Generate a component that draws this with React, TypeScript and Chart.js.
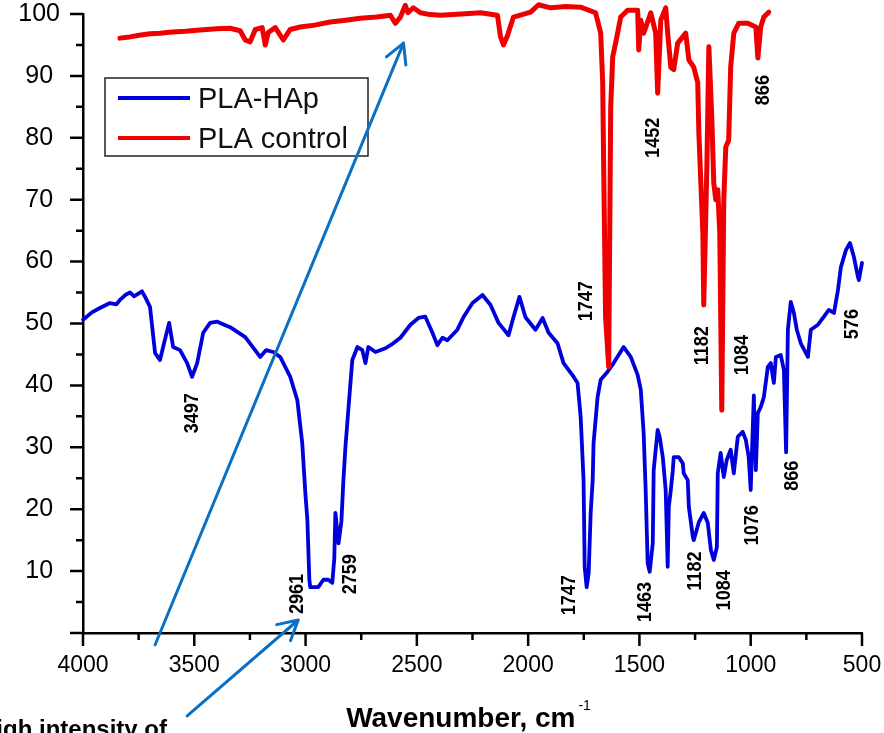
import React, { useEffect, useRef } from 'react';
import { Chart, registerables } from 'chart.js';

Chart.register(...registerables);

// ---------- DATA ----------
const seriesNames = ['PLA-HAp', 'PLA control'];

const blueWavenumbers = [
  4000, 3960, 3924, 3879, 3850, 3834, 3810, 3789, 3770, 3753, 3735, 3721, 3699, 3676, 3654, 3640,
  3613, 3595, 3564, 3532, 3510, 3487, 3460, 3429, 3397, 3339, 3271, 3204, 3177, 3145, 3114, 3069,
  3037, 3015, 3001, 2992, 2983, 2979, 2943, 2920, 2898, 2880, 2871, 2866, 2852, 2839, 2830, 2821,
  2808, 2790, 2767, 2745, 2731, 2718, 2686, 2641, 2606, 2574, 2529, 2493, 2462, 2430, 2408, 2385,
  2363, 2318, 2291, 2250, 2205, 2169, 2133, 2088, 2066, 2039, 2012, 1967, 1935, 1908, 1868, 1841,
  1796, 1778, 1764, 1751, 1746, 1737, 1728, 1719, 1710, 1706, 1688, 1674, 1643, 1616, 1571, 1539,
  1508, 1494, 1481, 1472, 1463, 1454, 1440, 1436, 1418, 1409, 1395, 1382, 1373, 1368, 1359, 1350,
  1346, 1323, 1305, 1301, 1283, 1278, 1260, 1256, 1233, 1211, 1193, 1179, 1166, 1152, 1148, 1135,
  1121, 1108, 1090, 1076, 1058, 1036, 1022, 1009, 1000, 991, 986, 977, 968, 955, 941, 923,
  910, 896, 887, 865, 851, 841, 833, 820, 806, 793, 775, 743, 730, 698, 671, 649,
  626, 608, 595, 572, 554, 536, 518, 514, 500,
];
const blueTransmittance = [
  50.6, 51.8, 52.5, 53.3, 53.1, 53.8, 54.6, 55.0, 54.4, 54.8, 55.2, 54.3, 52.7, 45.2, 44.1, 46.2,
  50.1, 46.2, 45.7, 43.6, 41.4, 43.6, 48.5, 50.1, 50.3, 49.4, 47.8, 44.6, 45.7, 45.4, 44.6, 41.4,
  37.6, 30.7, 22.6, 18.3, 8.6, 7.4, 7.4, 8.6, 8.6, 8.1, 12.0, 19.4, 14.5, 18.0, 24.7, 30.0,
  36.0, 44.1, 46.2, 45.7, 43.6, 46.2, 45.4, 46.0, 46.8, 47.7, 49.8, 50.9, 51.1, 48.5, 46.5, 47.7,
  47.3, 49.0, 51.0, 53.3, 54.6, 53.0, 50.1, 48.1, 51.0, 54.3, 51.0, 49.0, 50.9, 48.5, 46.8, 43.6,
  41.4, 40.4, 34.9, 24.7, 10.7, 7.4, 9.7, 19.4, 24.7, 30.7, 38.1, 40.9, 42.2, 43.6, 46.2, 44.6,
  41.7, 39.3, 32.3, 23.1, 11.3, 9.9, 14.5, 26.3, 32.8, 31.7, 28.4, 23.1, 10.7, 20.4, 23.1, 26.3,
  28.4, 28.4, 27.4, 25.8, 24.7, 20.4, 15.5, 15.0, 17.9, 19.4, 17.8, 13.4, 11.8, 13.9, 25.8, 29.1,
  25.2, 27.9, 29.6, 25.8, 31.7, 32.5, 31.2, 28.4, 23.1, 32.8, 38.4, 26.3, 35.5, 36.5, 38.1, 43.0,
  43.6, 40.4, 44.6, 44.9, 42.5, 29.2, 49.0, 53.5, 51.7, 49.0, 46.8, 44.6, 49.0, 49.8, 51.1, 52.2,
  51.7, 55.4, 59.1, 61.9, 63.0, 60.7, 57.5, 57.0, 59.8,
];

const redWavenumbers = [
  3834, 3790, 3740, 3699, 3654, 3600, 3540, 3474, 3400, 3339, 3294, 3271, 3249, 3226, 3195, 3181,
  3168, 3136, 3100, 3069, 3024, 2960, 2889, 2820, 2754, 2680, 2619, 2597, 2574, 2552, 2540, 2529,
  2516, 2484, 2440, 2394, 2300, 2214, 2138, 2124, 2111, 2093, 2066, 1989, 1953, 1899, 1830, 1764,
  1697, 1674, 1665, 1661, 1652, 1638, 1629, 1620, 1607, 1584, 1553, 1508, 1503, 1494, 1481, 1449,
  1427, 1418, 1404, 1382, 1373, 1359, 1346, 1328, 1292, 1278, 1256, 1238, 1233, 1224, 1215, 1211,
  1197, 1188, 1175, 1166, 1157, 1148, 1139, 1130, 1121, 1112, 1099, 1090, 1076, 1054, 1013, 977,
  968, 955, 941, 919,
];
const redTransmittance = [
  96.1, 96.3, 96.6, 96.8, 96.9, 97.1, 97.2, 97.4, 97.6, 97.7, 97.3, 95.8, 95.5, 97.5, 97.8, 95.0,
  97.0, 97.8, 95.8, 97.5, 97.9, 98.2, 98.7, 99.0, 99.3, 99.5, 99.8, 98.5, 99.5, 101.4, 100.2, 100.6,
  101.0, 100.2, 99.9, 99.8, 100.0, 100.2, 99.8, 96.3, 95.0, 96.5, 99.5, 100.3, 101.5, 101.0, 101.2, 101.1,
  100.2, 96.9, 88.9, 76.4, 51.0, 43.0, 85.0, 93.1, 95.3, 99.5, 100.6, 100.6, 94.2, 99.0, 96.9, 100.2,
  96.9, 87.2, 99.0, 101.0, 96.9, 91.4, 91.0, 95.3, 96.9, 92.6, 91.4, 88.9, 80.8, 72.7, 64.6, 53.0,
  75.3, 94.7, 83.4, 72.7, 70.0, 71.6, 64.6, 36.0, 70.0, 78.5, 79.6, 91.4, 96.9, 98.5, 98.5, 97.9,
  92.9, 97.9, 99.5, 100.3,
];

const xTickValues = [4000, 3500, 3000, 2500, 2000, 1500, 1000, 500];
const yTickValues = [0, 10, 20, 30, 40, 50, 60, 70, 80, 90, 100];

// peak annotations (label text, anchor wavenumber, anchor transmittance)
const bluePeakLabels = ['3497', '2961', '2759', '1747', '1463', '1182', '1084', '1076', '866', '576'];
const bluePeakWavenumbers = [3510, 3037, 2799, 1814, 1472, 1251, 1117, 995, 815, 545];
const bluePeakLabelY = [35.5, 6.3, 9.5, 6.1, 5.0, 10.0, 6.9, 17.4, 25.4, 49.9];
const redPeakLabels = ['1747', '1452', '1182', '1084', '866'];
const redPeakWavenumbers = [1737, 1436, 1220, 1040, 946];
const redPeakLabelY = [53.6, 80.0, 46.4, 44.9, 87.7];

// callout arrows: tails and tips in data units
const arrowTails = [[3676, -1.9], [3532, -13.4]];
const arrowTips = [[2560, 95.3], [3033, 2.1]];

const calloutText = 'High intensity of';
const xTitle = 'Wavenumber, cm';
const xTitleSup = '-1';

const FONT = '"Liberation Sans", Arial, Helvetica, sans-serif';
const BLUE = '#0000DC';
const RED = '#EE0000';
const ARROW = '#0A70C4';

function drawVLabel(ctx: CanvasRenderingContext2D, text: string, cx: number, cy: number) {
  ctx.save();
  ctx.translate(cx, cy);
  ctx.rotate(-Math.PI / 2);
  ctx.scale(0.86, 1);
  ctx.font = `bold 21px ${FONT}`;
  ctx.fillStyle = '#000';
  ctx.textAlign = 'center';
  ctx.textBaseline = 'middle';
  ctx.fillText(text, 0, 0);
  ctx.restore();
}

function drawArrow(ctx: CanvasRenderingContext2D, x1: number, y1: number, x2: number, y2: number) {
  const ang = Math.atan2(y2 - y1, x2 - x1);
  const head = 22;
  const spread = 0.5;
  ctx.save();
  ctx.strokeStyle = ARROW;
  ctx.lineWidth = 3;
  ctx.lineCap = 'round';
  ctx.lineJoin = 'round';
  ctx.beginPath();
  ctx.moveTo(x1, y1);
  ctx.lineTo(x2, y2);
  ctx.moveTo(x2 - head * Math.cos(ang - spread), y2 - head * Math.sin(ang - spread));
  ctx.lineTo(x2, y2);
  ctx.lineTo(x2 - head * Math.cos(ang + spread), y2 - head * Math.sin(ang + spread));
  ctx.stroke();
  ctx.restore();
}

const overlayPlugin = {
  id: 'overlay',
  afterDraw(chart: any) {
    const { ctx, chartArea } = chart;
    const xs = chart.scales.x;
    const ys = chart.scales.y;

    // ticks (major + minor), drawn outward
    ctx.save();
    ctx.strokeStyle = '#000';
    ctx.lineWidth = 2.5;
    ctx.beginPath();
    const xMinor: number[] = [];
    for (let i = 0; i < xTickValues.length - 1; i++) xMinor.push((xTickValues[i] + xTickValues[i + 1]) / 2);
    xTickValues.forEach((v) => {
      const px = xs.getPixelForValue(v);
      ctx.moveTo(px, chartArea.bottom);
      ctx.lineTo(px, chartArea.bottom + 13);
    });
    xMinor.forEach((v) => {
      const px = xs.getPixelForValue(v);
      ctx.moveTo(px, chartArea.bottom);
      ctx.lineTo(px, chartArea.bottom + 7);
    });
    const yMinor: number[] = [];
    for (let i = 0; i < yTickValues.length - 1; i++) yMinor.push((yTickValues[i] + yTickValues[i + 1]) / 2);
    yTickValues.forEach((v) => {
      const py = ys.getPixelForValue(v);
      ctx.moveTo(chartArea.left, py);
      ctx.lineTo(chartArea.left - 13, py);
    });
    yMinor.forEach((v) => {
      const py = ys.getPixelForValue(v);
      ctx.moveTo(chartArea.left, py);
      ctx.lineTo(chartArea.left - 7, py);
    });
    ctx.stroke();
    ctx.restore();

    // peak labels
    bluePeakLabels.forEach((t, i) =>
      drawVLabel(ctx, t, xs.getPixelForValue(bluePeakWavenumbers[i]), ys.getPixelForValue(bluePeakLabelY[i]))
    );
    redPeakLabels.forEach((t, i) =>
      drawVLabel(ctx, t, xs.getPixelForValue(redPeakWavenumbers[i]), ys.getPixelForValue(redPeakLabelY[i]))
    );

    // legend
    const ds = chart.data.datasets;
    const lx = chartArea.left + 22;
    const ly = chartArea.top + 64;
    ctx.save();
    ctx.strokeStyle = '#222';
    ctx.lineWidth = 1.5;
    ctx.strokeRect(lx, ly, 263, 78);
    const rows = [ly + 20, ly + 60];
    ds.forEach((d: any, i: number) => {
      ctx.strokeStyle = d.borderColor;
      ctx.lineWidth = 4;
      ctx.beginPath();
      ctx.moveTo(lx + 13, rows[i]);
      ctx.lineTo(lx + 85, rows[i]);
      ctx.stroke();
      ctx.fillStyle = '#111';
      ctx.font = `29px ${FONT}`;
      ctx.textAlign = 'left';
      ctx.textBaseline = 'alphabetic';
      ctx.fillText(d.label, lx + 93, rows[i] + 10);
    });
    ctx.restore();

    // x-axis title with superscript
    ctx.save();
    ctx.fillStyle = '#000';
    ctx.textBaseline = 'alphabetic';
    ctx.font = `bold 28px ${FONT}`;
    const mainW = ctx.measureText(xTitle).width;
    ctx.font = `14px ${FONT}`;
    const supW = ctx.measureText(xTitleSup).width;
    const cx = (chartArea.left + chartArea.right) / 2 - 4;
    const startX = cx - (mainW + supW + 3) / 2;
    const base = chartArea.bottom + 94;
    ctx.font = `bold 28px ${FONT}`;
    ctx.textAlign = 'left';
    ctx.fillText(xTitle, startX, base);
    ctx.font = `14px ${FONT}`;
    ctx.fillText(xTitleSup, startX + mainW + 3, base - 17);
    ctx.restore();

    // callout text (cut at the bottom-left edge)
    ctx.save();
    ctx.fillStyle = '#000';
    ctx.font = `bold 24px ${FONT}`;
    ctx.textAlign = 'right';
    ctx.textBaseline = 'alphabetic';
    ctx.fillText(calloutText, 167, chart.height + 4);
    ctx.restore();

    // arrows
    arrowTails.forEach((t, i) => {
      drawArrow(
        ctx,
        xs.getPixelForValue(t[0]),
        ys.getPixelForValue(t[1]),
        xs.getPixelForValue(arrowTips[i][0]),
        ys.getPixelForValue(arrowTips[i][1])
      );
    });
  },
};

export default function App() {
  const ref = useRef<HTMLCanvasElement>(null);

  useEffect(() => {
    document.body.style.margin = '0';
    const canvas = ref.current;
    if (!canvas) return;
    const bluePts = blueWavenumbers.map((w, i) => ({ x: w, y: blueTransmittance[i] }));
    const redPts = redWavenumbers.map((w, i) => ({ x: w, y: redTransmittance[i] }));
    const chart = new Chart(canvas, {
      type: 'scatter',
      data: {
        datasets: [
          {
            label: seriesNames[0],
            data: bluePts,
            showLine: true,
            borderColor: BLUE,
            backgroundColor: BLUE,
            borderWidth: 3.8,
            pointRadius: 0,
            tension: 0,
            borderJoinStyle: 'round',
            borderCapStyle: 'round',
            clip: false,
            order: 2,
          } as any,
          {
            label: seriesNames[1],
            data: redPts,
            showLine: true,
            borderColor: RED,
            backgroundColor: RED,
            borderWidth: 5,
            pointRadius: 0,
            tension: 0,
            borderJoinStyle: 'round',
            borderCapStyle: 'round',
            clip: false,
            order: 1,
          } as any,
        ],
      },
      options: {
        animation: false,
        responsive: false,
        maintainAspectRatio: false,
        events: [],
        layout: { padding: { left: 0, top: 14, right: 22, bottom: 0 } },
        plugins: { legend: { display: false }, tooltip: { enabled: false } },
        scales: {
          x: {
            type: 'linear',
            reverse: true,
            min: 500,
            max: 4000,
            afterBuildTicks: (s: any) => {
              s.ticks = xTickValues.map((v) => ({ value: v }));
            },
            afterFit: (s: any) => {
              s.height = 100;
              s.paddingLeft = 0;
              s.paddingRight = 0;
            },
            ticks: {
              autoSkip: false,
              maxRotation: 0,
              padding: 19,
              color: '#000',
              font: { family: FONT, size: 23, lineHeight: 1.2 },
              callback: (v: any) => String(v),
            },
            grid: { display: false, drawTicks: false },
            border: { display: true, color: '#000', width: 2.5 },
          },
          y: {
            type: 'linear',
            min: 0,
            max: 100,
            afterBuildTicks: (s: any) => {
              s.ticks = yTickValues.map((v) => ({ value: v }));
            },
            afterFit: (s: any) => {
              s.width = 83;
              s.paddingTop = 0;
              s.paddingBottom = 0;
            },
            ticks: {
              autoSkip: false,
              padding: 23,
              crossAlign: 'center',
              color: '#000',
              font: { family: FONT, size: 25, lineHeight: 1 },
              callback: (v: any) => (Number(v) === 0 ? '' : String(v)),
            },
            grid: { display: false, drawTicks: false },
            border: { display: true, color: '#000', width: 2.5 },
          },
        },
      } as any,
      plugins: [overlayPlugin],
    });
    return () => chart.destroy();
  }, []);

  return (
    <div style={{ position: 'absolute', left: 0, top: 0, width: 884, height: 733, background: '#fff' }}>
      <canvas ref={ref} width={884} height={733} style={{ display: 'block', width: 884, height: 733 }} />
    </div>
  );
}
